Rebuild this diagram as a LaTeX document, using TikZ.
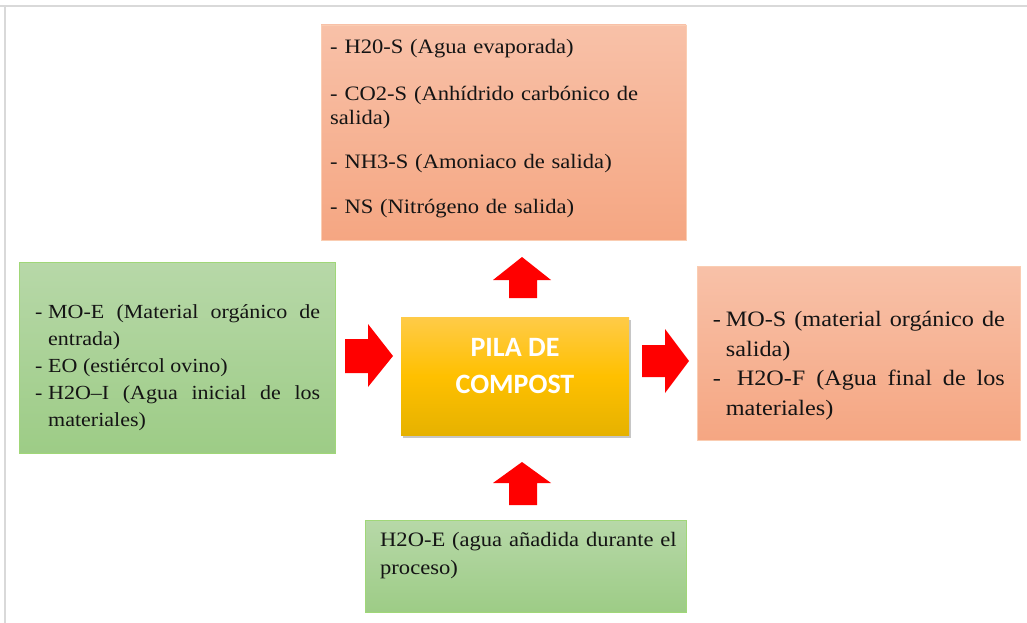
\documentclass[tikz,border=0pt]{standalone}
\usepackage{fontspec}
\setmainfont{Liberation Serif}[FakeStretch=1.1]
\newfontfamily\boldsans{Carlito}
\usetikzlibrary{shadows}
\definecolor{salTop}{RGB}{248,193,168}
\definecolor{salBot}{RGB}{245,166,130}
\definecolor{salLine}{RGB}{250,205,178}
\definecolor{grnTop}{RGB}{183,216,168}
\definecolor{grnBot}{RGB}{157,204,134}
\definecolor{grnLine}{RGB}{160,215,120}
\definecolor{goldTop}{RGB}{255,203,72}
\definecolor{goldMid}{RGB}{255,192,0}
\definecolor{goldBot}{RGB}{230,178,0}
\definecolor{frameGray}{RGB}{217,217,217}
\definecolor{txt}{RGB}{20,20,20}
\newcommand\itm{\par\hangindent=13pt\hangafter=1\noindent\makebox[13pt][l]{-}}
\begin{document}
\begin{tikzpicture}[x=1pt,y=-1pt,
  salbox/.style={draw=salLine, line width=0.8pt, top color=salTop, bottom color=salBot, inner sep=0pt},
  grnbox/.style={draw=grnLine, line width=0.8pt, top color=grnTop, bottom color=grnBot, inner sep=0pt},
  txtblock/.style={anchor=north west, inner sep=0pt, text=txt},
  redarrow/.style={fill=red, draw=none}]
\useasboundingbox (0,0) rectangle (1027,623);
\draw[frameGray, line width=2pt] (0,6) -- (1027,6);
\draw[frameGray, line width=2pt] (5,6) -- (5,623);
% boxes
\node[salbox, minimum width=365, minimum height=215] (top) at (503.5,132.5) {};
\node[grnbox, minimum width=316, minimum height=191] (left) at (177,357.5) {};
\node[salbox, minimum width=323, minimum height=174] (right) at (858.5,353) {};
\node[grnbox, minimum width=321, minimum height=92] (bottom) at (525.5,566) {};
\node[draw=none, top color=goldTop, bottom color=goldBot, middle color=goldMid,
      minimum width=228, minimum height=118, inner sep=0pt,
      drop shadow={opacity=0.45, shadow xshift=1.5pt, shadow yshift=-2.5pt}] (pila) at (515,376) {};
\node[text=white, font=\boldsans\bfseries\fontsize{28}{37}\selectfont, align=center, inner sep=0pt] (pilatxt) at (515,366) {PILA DE\\COMPOST};
% texts
\node[txtblock, text width=350, align=left, font=\fontsize{20.5}{24.5}\selectfont] (toptxt) at (330,39.1)
 {- H20-S (Agua evaporada)\\[22pt]
  - CO2-S (Anhídrido carbónico de\\salida)\\[19pt]
  - NH3-S (Amoniaco de salida)\\[21pt]
  - NS (Nitrógeno de salida)};
\node[txtblock, text width=285, align=justify, font=\fontsize{20}{27}\selectfont] (lefttxt) at (35,291)
 {\itm MO-E (Material orgánico de\linebreak entrada)\itm EO (estiércol ovino)\itm H2O–I (Agua inicial de los\linebreak materiales)\par};
\node[txtblock, text width=292, align=justify, font=\fontsize{22}{29.5}\selectfont] (righttxt) at (712.7,297)
 {\itm MO-S (material orgánico de\linebreak salida)\itm\ H2O-F (Agua final de los\linebreak materiales)\par};
\node[txtblock, text width=300, align=left, font=\fontsize{20.5}{28.5}\selectfont] (bottomtxt) at (380,532)
 {H2O-E (agua añadida durante el\\proceso)};
% block arrows
\fill[redarrow] (345,339) -- (368,339) -- (368,324) -- (393,356) -- (368,387) -- (368,373) -- (345,373) -- cycle;
\fill[redarrow] (642,345) -- (665,345) -- (665,329) -- (689,361) -- (665,393) -- (665,377) -- (642,377) -- cycle;
\fill[redarrow] (509,298) -- (509,280) -- (493,280) -- (522,257) -- (551,280) -- (537,280) -- (537,298) -- cycle;
\fill[redarrow] (509,505) -- (509,483) -- (493,483) -- (522,462) -- (551,483) -- (537,483) -- (537,505) -- cycle;
\end{tikzpicture}
\end{document}
